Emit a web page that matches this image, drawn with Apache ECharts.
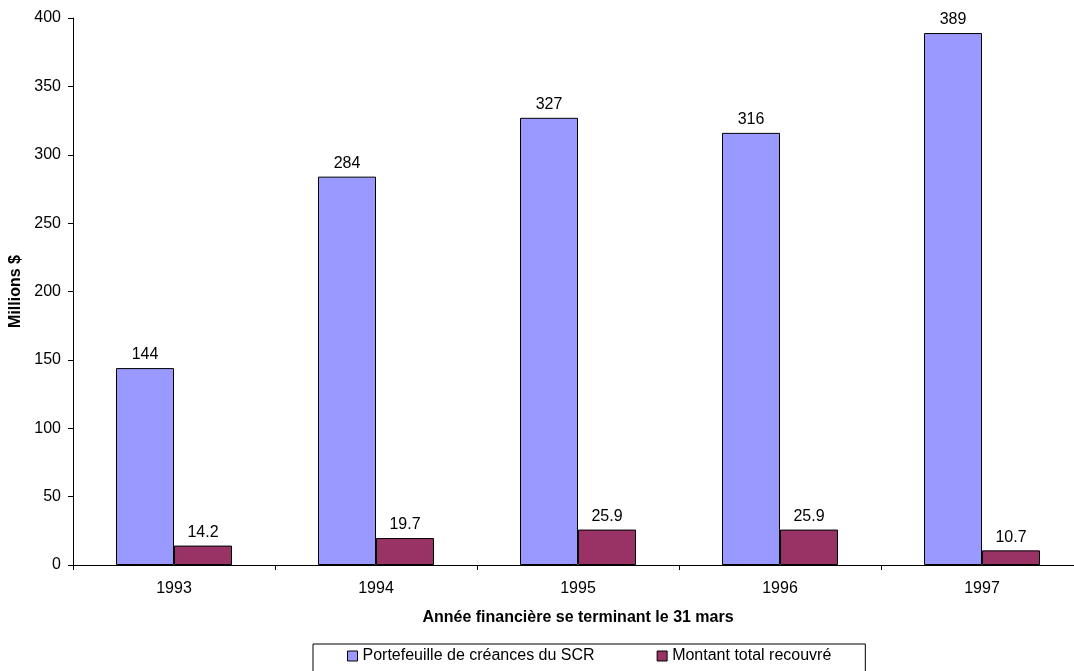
<!DOCTYPE html>
<html>
<head>
<meta charset="utf-8">
<script src="https://cdn.jsdelivr.net/npm/echarts@6/dist/echarts.min.js"></script>
<style>
    html, body { margin: 0; padding: 0; background: #fff; overflow: hidden; }
</style>
</head>
<body>
<div id="main" style="width: 1074px;height:671px;"></div>
<script type="text/javascript">
    // données
    var annees = ['1993', '1994', '1995', '1996', '1997'];
    var portefeuille = [144, 284, 327, 316, 389];
    var recouvre = [14.2, 19.7, 25.9, 25.9, 10.7];
    var nomsSeries = ['Portefeuille de créances du SCR', 'Montant total recouvré'];

    var myChart = echarts.init(document.getElementById('main'));
    var police = 'Liberation Sans, Arial, sans-serif';

    var etiquette = {
        show: true,
        position: 'top',
        distance: 5,
        color: '#000',
        fontSize: 16,
        fontFamily: police
    };

    var option = {
        animation: false,
        textStyle: { fontFamily: police },
        grid: {
            left: 73,
            width: 1010,   // l'axe des x du modèle est coupé à droite
            top: 18,
            bottom: 106,
            containLabel: false,
            outerBoundsMode: 'none'
        },
        legend: {
            left: 313,
            top: 644,
            data: nomsSeries,
            icon: 'rect',
            itemWidth: 10,
            itemHeight: 10,
            itemGap: 62,
            itemStyle: { borderColor: '#000', borderWidth: 1 },
            textStyle: { color: '#000', fontSize: 16, fontFamily: police },
            borderColor: '#000',
            borderWidth: 1,
            padding: [4, 34, 16, 34]
        },
        xAxis: {
            type: 'category',
            data: annees,
            name: 'Année financière se terminant le 31 mars',
            nameLocation: 'middle',
            nameGap: 45,
            nameTextStyle: { color: '#000', fontSize: 16, fontWeight: 'bold', fontFamily: police },
            axisLine: { lineStyle: { color: '#000', width: 1 } },
            axisTick: { show: true, length: 5, lineStyle: { color: '#000' } },
            axisLabel: { color: '#000', fontSize: 16, margin: 16, fontFamily: police },
            splitLine: { show: false }
        },
        yAxis: {
            type: 'value',
            min: 0,
            max: 400,
            interval: 50,
            name: 'Millions $',
            nameLocation: 'middle',
            nameGap: 48,
            nameTextStyle: { color: '#000', fontSize: 16, fontWeight: 'bold', fontFamily: police },
            axisLine: { show: true, lineStyle: { color: '#000', width: 1 } },
            axisTick: { show: true, length: 5, lineStyle: { color: '#000' } },
            axisLabel: { color: '#000', fontSize: 16, margin: 12, fontFamily: police },
            splitLine: { show: false }
        },
        series: [
            {
                name: nomsSeries[0],
                type: 'bar',
                data: portefeuille,
                barWidth: 58,
                barGap: '0%',
                itemStyle: { color: '#9999FF', borderColor: '#000', borderWidth: 1 },
                label: etiquette
            },
            {
                name: nomsSeries[1],
                type: 'bar',
                data: recouvre,
                barWidth: 58,
                barGap: '0%',
                itemStyle: { color: '#993366', borderColor: '#000', borderWidth: 1 },
                label: etiquette
            }
        ]
    };

    myChart.setOption(option);
</script>
</body>
</html>
